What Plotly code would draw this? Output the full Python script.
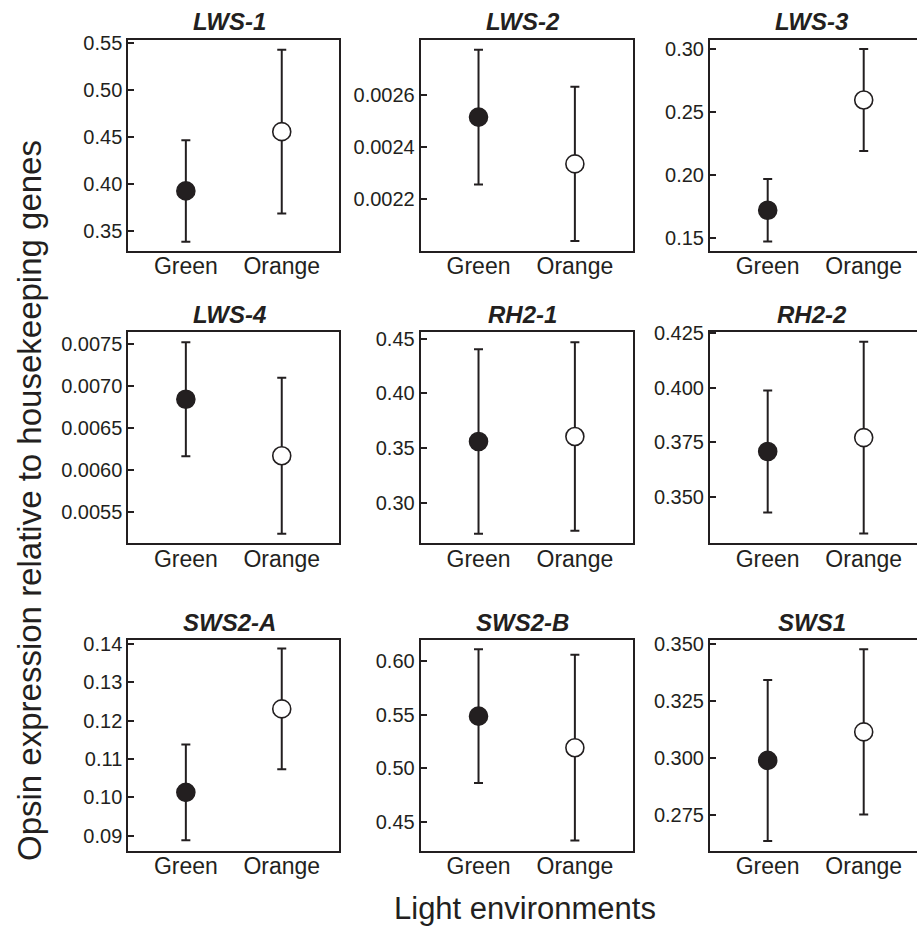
import plotly.graph_objects as go

# ---------------- data ----------------
genes = ["LWS-1", "LWS-2", "LWS-3", "LWS-4", "RH2-1", "RH2-2", "SWS2-A", "SWS2-B", "SWS1"]
environments = ["Green", "Orange"]
green_mean = [0.393, 0.002514, 0.172, 0.006845, 0.356, 0.3707, 0.1013, 0.5487, 0.299]
green_err = [0.054, 0.000258, 0.0248, 0.00068, 0.0843, 0.028, 0.0125, 0.0623, 0.0353]
orange_mean = [0.456, 0.002335, 0.2595, 0.006171, 0.3606, 0.3771, 0.1231, 0.5193, 0.3115]
orange_err = [0.087, 0.000295, 0.0404, 0.00093, 0.0862, 0.0441, 0.0158, 0.0865, 0.0362]

y_ranges = [
    [0.3294, 0.5535], [0.002003, 0.002809], [0.1399, 0.3071],
    [0.005127, 0.007643], [0.2629, 0.4559], [0.3285, 0.4255],
    [0.0861, 0.1411], [0.4236, 0.6196], [0.2595, 0.3518],
]
y_ticks = [
    [0.35, 0.40, 0.45, 0.50, 0.55], [0.0022, 0.0024, 0.0026], [0.15, 0.20, 0.25, 0.30],
    [0.0055, 0.0060, 0.0065, 0.0070, 0.0075], [0.30, 0.35, 0.40, 0.45], [0.350, 0.375, 0.400, 0.425],
    [0.09, 0.10, 0.11, 0.12, 0.13, 0.14], [0.45, 0.50, 0.55, 0.60], [0.275, 0.300, 0.325, 0.350],
]
y_formats = [".2f", ".4f", ".2f", ".4f", ".2f", ".3f", ".2f", ".2f", ".3f"]

# ---------------- layout constants ----------------
W, H = 917, 928
INK = "#231f20"
FONT = "Liberation Sans, Arial, Helvetica, sans-serif"
col_px = [(128.3, 339.3), (420.7, 632.7), (710.0, 917.0)]
row_px = [(40.0, 250.7), (332.3, 543.3), (640.0, 850.5)]
x_ranges = [[-0.6, 1.6], [-0.6, 1.6], [-0.601, 1.555]]
title_cx = [(128.3 + 339.3) / 2 - 4, (420.7 + 632.7) / 2 - 4, (710.0 + 921.0) / 2 - 4]

fig = go.Figure()
layout = dict(
    width=W, height=H,
    margin=dict(l=0, r=0, t=0, b=0, autoexpand=False),
    paper_bgcolor="white", plot_bgcolor="white",
    showlegend=False,
    font=dict(family=FONT, color=INK),
)
annotations = []

for i, gene in enumerate(genes):
    r, c = divmod(i, 3)
    n = i + 1
    xa = "x" if n == 1 else f"x{n}"
    ya = "y" if n == 1 else f"y{n}"
    for env, mean, err, fill in [
        ("Green", green_mean[i], green_err[i], INK),
        ("Orange", orange_mean[i], orange_err[i], "white"),
    ]:
        fig.add_trace(go.Scatter(
            x=[env], y=[mean], xaxis=xa, yaxis=ya, mode="markers",
            marker=dict(size=18, color=fill, line=dict(color=INK, width=1.6)),
            error_y=dict(type="data", array=[err], visible=True,
                         thickness=2, width=4.5, color=INK),
            hoverinfo="skip",
        ))
    x0, x1 = col_px[c]
    y0, y1 = row_px[r]
    dom_x = [x0 / W, min(x1 / W, 1.0)]
    dom_y = [1 - y1 / H, 1 - y0 / H]
    xkey = "xaxis" if n == 1 else f"xaxis{n}"
    ykey = "yaxis" if n == 1 else f"yaxis{n}"
    layout[xkey] = dict(
        domain=dom_x, anchor=ya, type="category",
        categoryorder="array", categoryarray=environments,
        range=x_ranges[c], showgrid=False, zeroline=False, automargin=False,
        showline=True, linecolor=INK, linewidth=2, mirror=True,
        ticks="", tickfont=dict(size=23, color=INK, family=FONT),
        ticklabelstandoff=-6, fixedrange=True,
    )
    layout[ykey] = dict(
        domain=dom_y, anchor=xa, range=y_ranges[i],
        tickvals=y_ticks[i], tickformat=y_formats[i],
        showgrid=False, zeroline=False, automargin=False,
        showline=True, linecolor=INK, linewidth=2, mirror=(c < 2),
        ticks="inside", ticklen=6, tickwidth=1.6, tickcolor=INK,
        tickfont=dict(size=20, color=INK, family=FONT),
        ticklabelstandoff=0, fixedrange=True,
    )
    annotations.append(dict(
        text=f"<b><i>{gene}</i></b>", x=title_cx[c] / W, y=1 - (y0 - 18) / H,
        xref="paper", yref="paper", xanchor="center", yanchor="middle",
        showarrow=False, font=dict(size=24, color=INK, family=FONT),
    ))

annotations.append(dict(
    text="Opsin expression relative to housekeeping genes",
    x=30 / W, y=1 - 501 / H, xref="paper", yref="paper",
    xanchor="center", yanchor="middle", textangle=-90, showarrow=False,
    font=dict(size=33, color=INK, family=FONT),
))
annotations.append(dict(
    text="Light environments",
    x=525 / W, y=1 - 908 / H, xref="paper", yref="paper",
    xanchor="center", yanchor="middle", showarrow=False,
    font=dict(size=31, color=INK, family=FONT),
))
layout["annotations"] = annotations
fig.update_layout(**layout)
fig.write_html(
    "out.html",
    config={"displayModeBar": False},
    post_script="document.body.style.margin='0px';document.body.style.overflow='hidden';",
)
